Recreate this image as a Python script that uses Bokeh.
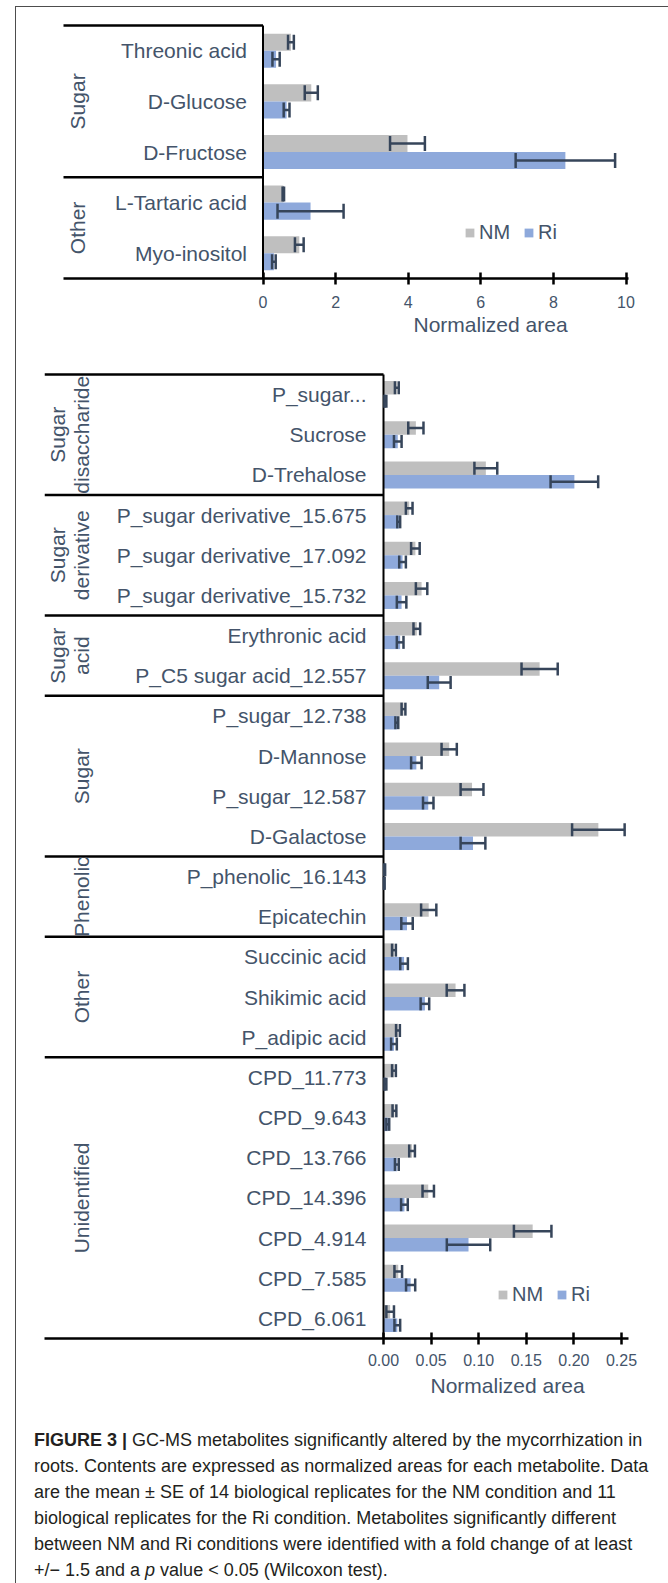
import math
from bokeh.plotting import figure
from bokeh.models import (Range1d, FixedTicker, Whisker, TeeHead, ColumnDataSource,
                          Legend, LegendItem, Title, Div, Spacer)
from bokeh.layouts import column, row
from bokeh.core.properties import value
from bokeh.embed import file_html
from bokeh.resources import INLINE

# ---------------- data ----------------
top_categories = ["Threonic acid", "D-Glucose", "D-Fructose", "L-Tartaric acid", "Myo-inositol"]
top_groups = ["Sugar", "Other"]
top_group_sizes = [3, 2]
top_nm = [0.77, 1.33, 3.98, 0.56, 1.00]
top_nm_se = [0.08, 0.18, 0.48, 0.02, 0.12]
top_ri = [0.36, 0.65, 8.33, 1.31, 0.30]
top_ri_se = [0.10, 0.08, 1.37, 0.91, 0.05]
top_ticks = [0, 2, 4, 6, 8, 10]
top_tick_labels = ["0", "2", "4", "6", "8", "10"]

bottom_categories = [
    "P_sugar...", "Sucrose", "D-Trehalose",
    "P_sugar derivative_15.675", "P_sugar derivative_17.092", "P_sugar derivative_15.732",
    "Erythronic acid", "P_C5 sugar acid_12.557",
    "P_sugar_12.738", "D-Mannose", "P_sugar_12.587", "D-Galactose",
    "P_phenolic_16.143", "Epicatechin",
    "Succinic acid", "Shikimic acid", "P_adipic acid",
    "CPD_11.773", "CPD_9.643", "CPD_13.766", "CPD_14.396", "CPD_4.914", "CPD_7.585", "CPD_6.061",
]
bottom_groups = ["Sugar\ndisaccharide", "Sugar\nderivative", "Sugar\nacid", "Sugar",
                 "Phenolic", "Other", "Unidentified"]
bottom_group_sizes = [3, 3, 2, 4, 2, 3, 7]
bottom_nm = [0.014, 0.034, 0.1075, 0.027, 0.0335, 0.040, 0.035, 0.164,
             0.021, 0.069, 0.093, 0.2257, 0.0012, 0.0475, 0.011, 0.0757, 0.0152,
             0.011, 0.0115, 0.030, 0.047, 0.1567, 0.0155, 0.007]
bottom_nm_se = [0.002, 0.008, 0.012, 0.0035, 0.0045, 0.006, 0.0035, 0.019,
                0.002, 0.008, 0.012, 0.0276, 0.0005, 0.008, 0.002, 0.0093, 0.002,
                0.002, 0.002, 0.003, 0.006, 0.0197, 0.004, 0.004]
bottom_ri = [0.002, 0.015, 0.2005, 0.016, 0.020, 0.019, 0.0175, 0.0585,
             0.014, 0.0345, 0.047, 0.094, 0.0008, 0.0247, 0.0216, 0.0435, 0.011,
             0.002, 0.0045, 0.014, 0.022, 0.0893, 0.0285, 0.0145]
bottom_ri_se = [0.001, 0.004, 0.025, 0.0015, 0.0035, 0.005, 0.0035, 0.012,
                0.0015, 0.0055, 0.0055, 0.013, 0.0004, 0.006, 0.004, 0.0045, 0.003,
                0.001, 0.0015, 0.002, 0.0035, 0.0228, 0.0048, 0.003]
bottom_ticks = [0, 0.05, 0.1, 0.15, 0.2, 0.25]
bottom_tick_labels = ["0.00", "0.05", "0.10", "0.15", "0.20", "0.25"]

series_names = ["NM", "Ri"]
axis_title = "Normalized area"

# ---------------- style ----------------
FONT = "Liberation Sans"
TEXT = "#44546A"
GRAY = "#BFBFBF"
BLUE = "#8EA9DB"
ERR = "#36455A"
LINE = "#000000"
BAR_FRAC = 0.337


def chart(cats, groups, sizes, nm, nm_se, ri, ri_se, ticks, tick_labels, cfg):
    n = len(cats)
    w, h = cfg["w"], cfg["h"]
    frame_w = w - cfg["mbl"] - cfg["mbr"]
    frame_h = h - cfg["mbt"] - cfg["mbb"]
    ppu = cfg["tick_px"] / ticks[-1]
    x_start = -cfg["zero_px"] / ppu
    x_end = (frame_w - cfg["zero_px"]) / ppu
    x_brk = x_start + cfg["brk_px"] / ppu          # left end of the category bracket lines
    band = (frame_h - cfg["pad"]) / n
    p = figure(width=w, height=h, output_backend="svg", toolbar_location=None,
               x_range=Range1d(x_start, x_end),
               y_range=Range1d(n - 0.5, -0.5 - cfg["pad"] / band),
               min_border_left=cfg["mbl"], min_border_right=cfg["mbr"],
               min_border_top=cfg["mbt"], min_border_bottom=cfg["mbb"],
               y_axis_location=None, outline_line_color=None,
               background_fill_color="white", border_fill_color="white")
    p.xgrid.visible = False
    p.ygrid.visible = False

    idx = list(range(n))
    y_nm = [i - BAR_FRAC / 2 for i in idx]
    y_ri = [i + BAR_FRAC / 2 for i in idx]

    r_nm = p.hbar(y=y_nm, left=0, right=nm, height=BAR_FRAC, fill_color=GRAY, line_color=None)
    r_ri = p.hbar(y=y_ri, left=0, right=ri, height=BAR_FRAC, fill_color=BLUE, line_color=None)

    for ys, m, s in ((y_nm, nm, nm_se), (y_ri, ri, ri_se)):
        src = ColumnDataSource(dict(base=ys, lower=[a - b for a, b in zip(m, s)],
                                    upper=[a + b for a, b in zip(m, s)]))
        wk = Whisker(source=src, base="base", lower="lower", upper="upper", dimension="width",
                     line_color=ERR, line_width=2.5, level="annotation",
                     lower_head=TeeHead(size=cfg["cap"], line_color=ERR, line_width=2.5),
                     upper_head=TeeHead(size=cfg["cap"], line_color=ERR, line_width=2.5))
        p.add_layout(wk)

    # bracket lines of the category axis
    bounds = [0]
    for s in sizes:
        bounds.append(bounds[-1] + s)
    p.segment(x0=[x_brk] * (len(bounds) - 1), y0=[b - 0.5 for b in bounds[:-1]],
              x1=[0] * (len(bounds) - 1), y1=[b - 0.5 for b in bounds[:-1]],
              line_color=LINE, line_width=2.5)
    p.segment(x0=[0], y0=[-0.5], x1=[0], y1=[n - 0.5], line_color=LINE, line_width=2)

    # category labels
    p.text(x=[0] * n, y=idx, text=cats, x_offset=-cfg["lab_off"], text_align="right",
           text_baseline="middle", text_font=value(FONT), text_font_size=value("21px"),
           text_color=TEXT)

    # group labels (rotated)
    gx, gy, gt = [], [], []
    for gi, name in enumerate(groups):
        center = (bounds[gi] + bounds[gi + 1]) / 2 - 0.5
        lines = name.split("\n")
        for k, line in enumerate(lines):
            off = cfg["grp_off"] - (len(lines) - 1 - k) * 24
            gx.append(x_brk + off / ppu)
            gy.append(center)
            gt.append(line)
    gsrc = ColumnDataSource(dict(x=gx, y=gy, t=gt))
    p.text(x="x", y="y", text="t", source=gsrc, angle=math.pi / 2,
           text_align="center", text_baseline="middle", text_font=value(FONT),
           text_font_size=value("21px"), text_color=TEXT)

    ax = p.xaxis[0]
    ax.bounds = (x_brk, x_end)
    ax.ticker = FixedTicker(ticks=ticks)
    ax.major_label_overrides = {t: l for t, l in zip(ticks, tick_labels)}
    ax.axis_line_color = LINE
    ax.axis_line_width = 2.5
    ax.major_tick_line_color = LINE
    ax.major_tick_line_width = 2.5
    ax.major_tick_in = 6
    ax.major_tick_out = 6
    ax.minor_tick_line_color = None
    ax.major_label_standoff = cfg["tick_standoff"]
    ax.major_label_text_font = FONT
    ax.major_label_text_font_size = "16px"
    ax.major_label_text_color = TEXT

    title = Title(text=axis_title, align="left", offset=cfg["title_off"], standoff=cfg["title_standoff"],
                  text_font=FONT, text_font_size="21px", text_font_style="normal", text_color=TEXT)
    p.add_layout(title, "below")

    legend = Legend(items=[LegendItem(label=series_names[0], renderers=[r_nm]),
                           LegendItem(label=series_names[1], renderers=[r_ri])],
                    orientation="horizontal", location=cfg["legend_loc"],
                    glyph_width=11, glyph_height=11, label_standoff=4, spacing=13,
                    padding=0, margin=0, background_fill_alpha=0, border_line_alpha=0,
                    label_text_font=FONT, label_text_font_size="20px", label_text_color=TEXT)
    p.add_layout(legend)
    return p


FIG_W = 652

# both frames share the same left/right edges (Bokeh aligns frames stacked in a column)
p_top = chart(top_categories, top_groups, top_group_sizes, top_nm, top_nm_se, top_ri, top_ri_se,
              top_ticks, top_tick_labels,
              dict(w=FIG_W, h=345, mbl=28, mbr=40, mbt=13, mbb=74, zero_px=218.5, tick_px=363,
                   brk_px=19, pad=5, cap=15, lab_off=16, grp_off=14, tick_standoff=11,
                   title_off=369, title_standoff=0, legend_loc=(420, 34)))

p_bot = chart(bottom_categories, bottom_groups, bottom_group_sizes, bottom_nm, bottom_nm_se,
              bottom_ri, bottom_ri_se, bottom_ticks, bottom_tick_labels,
              dict(w=FIG_W, h=1052, mbl=28, mbr=40, mbt=17, mbb=66, zero_px=339, tick_px=238,
                   brk_px=0, pad=5, cap=13, lab_off=17, grp_off=37, tick_standoff=9,
                   title_off=386, title_standoff=7, legend_loc=(453, 32)))

caption_html = (
    '<div style="font-family:\'Liberation Sans\',Arial,sans-serif; font-size:18px; line-height:26px; '
    'color:#231f20; padding:23px 0 0 18px; white-space:nowrap;">'
    '<b>FIGURE 3 |</b> GC-MS metabolites significantly altered by the mycorrhization in<br>'
    'roots. Contents are expressed as normalized areas for each metabolite. Data<br>'
    'are the mean \u00b1 SE of 14 biological replicates for the NM condition and 11<br>'
    'biological replicates for the Ri condition. Metabolites significantly different<br>'
    'between NM and Ri conditions were identified with a fold change of at least<br>'
    '+/\u2212 1.5 and a <i>p</i> value &lt; 0.05 (Wilcoxon test).</div>'
)
caption = Div(text=caption_html, width=FIG_W, height=179, margin=0)

top_line = Div(text="", width=653, height=1, margin=0, styles={"background-color": "#4d4d4d"})
left_line = Div(text="", width=1, height=1576, margin=0, styles={"background-color": "#4d4d4d"})

layout = column(
    Spacer(width=668, height=6, margin=0),
    row(Spacer(width=15, height=1, margin=0), top_line, spacing=0),
    row(Spacer(width=15, height=1576, margin=0), left_line,
        column(p_top, p_bot, caption, spacing=0), spacing=0),
    spacing=0,
)

open("out.html", "w").write(file_html(layout, INLINE))
